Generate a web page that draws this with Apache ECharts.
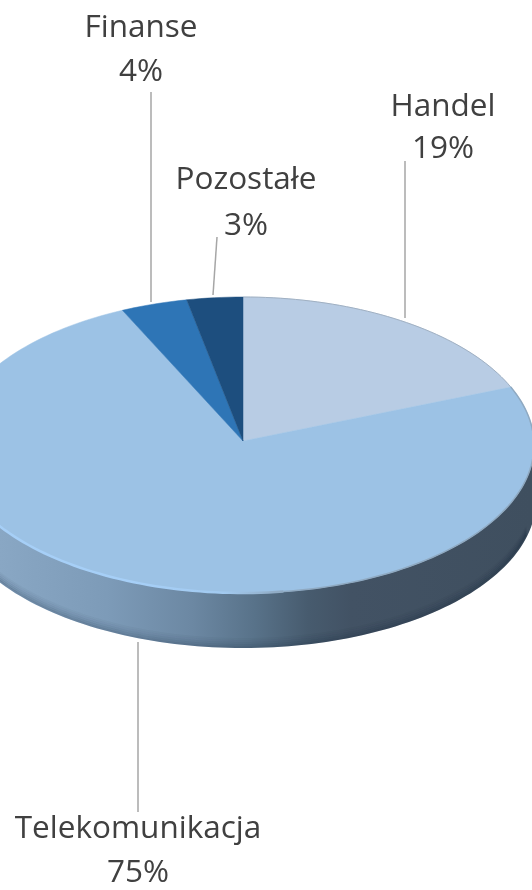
<!DOCTYPE html>
<html><head><meta charset="utf-8">
<style>html,body{margin:0;padding:0;background:#fff}#c{width:532px;height:890px}</style>
<script src="https://cdn.jsdelivr.net/npm/echarts@6/dist/echarts.min.js"></script>
</head><body><div id="c"></div>
<script>
var categories = ['Handel', 'Telekomunikacja', 'Finanse', 'Pozostałe'];
var shares = [18.6, 74.6, 3.7, 3.1];
var colors = ['#B8CCE4', '#9CC2E5', '#2E75B6', '#1D4E7E'];

// label placement: text centre and leader line ends
var labelLayout = {
  Handel: {x: 443, y1: 107, y2: 149, from: [405, 161], to: [405, 318]},
  Telekomunikacja: {x: 138, y1: 829, y2: 873, from: [138, 642], to: [138, 812]},
  'Finanse': {x: 141, y1: 28, y2: 72, from: [151, 92], to: [151, 302]},
  'Pozostałe': {x: 246, y1: 180, y2: 226, from: [217, 237], to: [213, 295]}
};

var geo = {cx: 243, cy: 445, rx: 291, ry: 148, apexY: 441, bcy: 500, brx: 293, bry: 148};
var total = shares.reduce(function (a, b) { return a + b; }, 0);

function pt(deg, cx, cy, rx, ry) {
  var t = deg * Math.PI / 180;
  return [cx + rx * Math.sin(t), cy - ry * Math.cos(t)];
}
function arc(a, b, cx, cy, rx, ry) {
  var out = [], n = Math.max(2, Math.ceil(Math.abs(b - a) / 1.5));
  for (var i = 0; i <= n; i++) out.push(pt(a + (b - a) * i / n, cx, cy, rx, ry));
  return out;
}
function xGrad(stops) {
  return {type: 'linear', x: 0, y: 0, x2: 532, y2: 0, global: true,
    colorStops: stops.map(function (s) { return {offset: s[0], color: s[1]}; })};
}

function sideGroup() {
  var g = geo, kids = [];
  var lower = arc(90, 270, g.cx, g.bcy, g.brx, g.bry);
  var upper = arc(270, 90, g.cx, g.cy, g.rx, g.ry);
  kids.push({type: 'polygon', shape: {points: lower.concat(upper)}, style: {
    fill: xGrad([[0, '#89A7C4'], [0.2, '#7D9BB8'], [0.36, '#6C88A3'], [0.48, '#587289'],
      [0.58, '#475B6E'], [0.66, '#425264'], [1, '#3F4F5F']])}});
  // dark band along the bottom of the rim
  [[1, 0.2], [3, 0.15], [5, 0.1], [7, 0.06], [9, 0.03]].forEach(function (b) {
    kids.push({type: 'polyline', shape: {points: arc(104, 256, g.cx, g.bcy - b[0], g.brx - 1, g.bry)},
      style: {stroke: 'rgba(10,25,45,' + b[1] + ')', lineWidth: 2, fill: null}});
  });
  return kids;
}

function renderSlice(params, api) {
  var g = geo, i = api.value(0), val = api.value(1), kids = [];
  var start = 0;
  for (var k = 0; k < i; k++) start += shares[k];
  var a = start / total * 360, b = (start + val) / total * 360;
  if (i === 1) kids = kids.concat(sideGroup());
  var edge = arc(a, b, g.cx, g.cy, g.rx, g.ry);
  kids.push({type: 'polygon', shape: {points: [[g.cx, g.apexY]].concat(edge)},
    style: {fill: colors[i], stroke: colors[i], lineWidth: 0.5}});
  if (i === 0) {
    kids.push({type: 'polyline', shape: {points: edge},
      style: {stroke: '#A0B0C2', lineWidth: 1, fill: null}});
  }
  if (i === 1) {
    // soft edge where the top face meets the rim
    kids.push({type: 'polyline', shape: {points: arc(a, 172, g.cx, g.cy, g.rx, g.ry)},
      style: {stroke: '#8FA9C1', lineWidth: 1.5, fill: null}});
    kids.push({type: 'polyline', shape: {points: arc(172, 292, g.cx, g.cy, g.rx, g.ry)},
      style: {lineWidth: 2.5, fill: null, stroke: xGrad([[0, '#A6CFF7'], [0.25, '#A6CFF7'], [0.42, '#A2CAF0'], [0.53, '#8FA9C1']])}});
  }
  return {type: 'group', children: kids};
}

function renderLabel(params, api) {
  var i = api.value(0), name = categories[i], l = labelLayout[name];
  var font = {fontFamily: '"Open Sans", sans-serif', fontSize: 31.5, fill: '#404040', align: 'center', verticalAlign: 'middle'};
  return {type: 'group', children: [
    {type: 'line', shape: {x1: l.from[0], y1: l.from[1], x2: l.to[0], y2: l.to[1]},
      style: {stroke: '#A6A6A6', lineWidth: 1.5}},
    {type: 'text', style: Object.assign({text: name, x: l.x, y: l.y1}, font)},
    {type: 'text', style: Object.assign({text: Math.round(api.value(1) / total * 100) + '%', x: l.x, y: l.y2}, font)}
  ]};
}

var data = shares.map(function (v, i) { return [i, v]; });
var chart = echarts.init(document.getElementById('c'), null, {renderer: 'canvas'});
chart.setOption({
  animation: false,
  backgroundColor: '#fff',
  series: [
    {type: 'custom', coordinateSystem: 'none', data: data, renderItem: renderSlice, z: 2},
    {type: 'custom', coordinateSystem: 'none', data: data, renderItem: renderLabel, z: 3}
  ]
});
</script></body></html>
